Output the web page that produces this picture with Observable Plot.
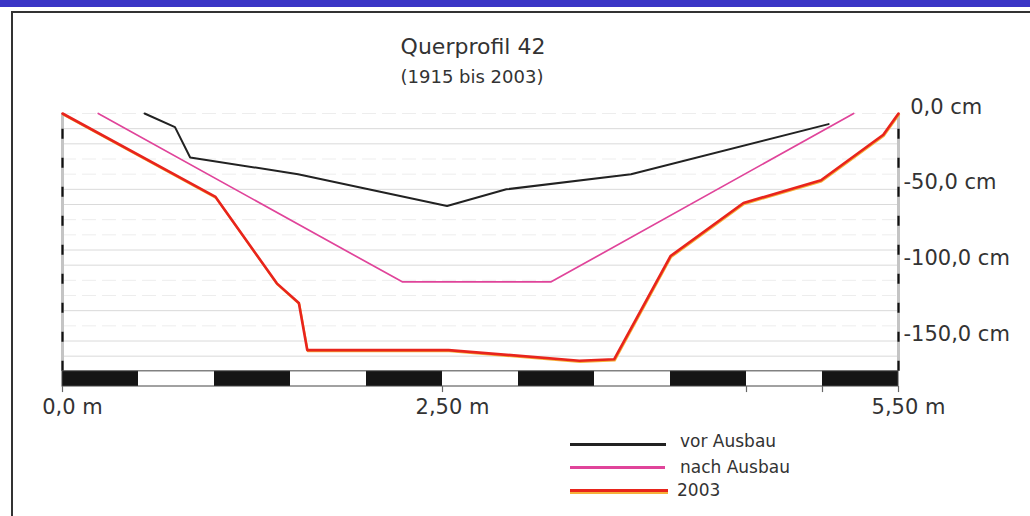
<!DOCTYPE html>
<html>
<head>
<meta charset="utf-8">
<script src="https://cdn.jsdelivr.net/npm/d3@7"></script>
<script src="https://cdn.jsdelivr.net/npm/@observablehq/plot@0.6"></script>
<style>
  body { margin: 0; background: #fff; }
  #wrap { position: relative; width: 1030px; height: 516px; overflow: hidden; font-family: "DejaVu Sans", sans-serif; color: #333; }
  #band { position: absolute; left: 0; top: 0; width: 1030px; height: 7px; background: #3a35c6; }
  #frame { position: absolute; left: 11px; top: 11px; width: 1040px; height: 530px; border: 2px solid #333; box-sizing: border-box; }
  #chart { position: absolute; left: 0; top: 0; }
  .txt { position: absolute; white-space: nowrap; line-height: 1; }
  .lg { position: absolute; height: 3px; }
</style>
</head>
<body>
<div id="wrap">
  <div id="band"></div>
  <div id="frame"></div>
  <div id="chart"></div>
  <div class="txt" id="title" style="left:273px;width:400px;text-align:center;top:36px;font-size:22px;"></div>
  <div class="txt" id="subtitle" style="left:272px;width:400px;text-align:center;top:68px;font-size:18px;"></div>
  <div id="legend"></div>
</div>
<script>
// ---- data ----
const titleText = "Querprofil 42";
const subtitleText = "(1915 bis 2003)";

const vorX = [0.54, 0.74, 0.84, 1.55, 2.53, 2.92, 3.74, 5.04];
const vorY = [0, -9, -29, -40, -61, -50, -40, -7];

const nachX = [0.235, 2.235, 3.215, 5.205];
const nachY = [0, -111, -111, 0];

const y2003X = [0, 1.007, 1.41, 1.555, 1.61, 2.54, 3.40, 3.63, 4.00, 4.48, 4.99, 5.40, 5.5];
const y2003Y = [0, -55, -112, -125, -156, -156, -163, -162, -94, -59, -44, -14, 0];

const seriesNames = ["vor Ausbau", "nach Ausbau", "2003"];

const yTickValues = [0, -50, -100, -150];
const yTickLabels = ["\u00a00,0 cm", "-50,0 cm", "-100,0 cm", "-150,0 cm"];

const xTickValues = [0, 2.5, 5.5];
const xTickLabels = ["0,0 m", "2,50 m", "5,50 m"];
const xTickMarks = [0, 2.5, 4.5, 5.0, 5.5];

const gridStrong = [-10, -20, -50, -60, -90, -100, -130, -150, -160];
const gridFaint = [0, -30, -40, -70, -80, -110, -120, -140];

const barEdges = [0, 0.5, 1, 1.5, 2, 2.5, 3, 3.5, 4, 4.5, 5, 5.5];
const depthMin = -170, barBottom = -180;

// ---- build ----
const toPts = (xs, ys) => xs.map((x, i) => ({x, y: ys[i]}));
const vor = toPts(vorX, vorY);
const nach = toPts(nachX, nachY);
const d2003 = toPts(y2003X, y2003Y);
const segments = d3.pairs(barEdges).map(([a, b], i) => ({x1: a, x2: b, fill: i % 2 === 0 ? "#151515" : "#ffffff"}));

const colors = {vor: "#222222", nach: "#e0449a", red: "#e8241c", orange: "#f6b13a"};

const chart = Plot.plot({
  width: 1030,
  height: 430,
  marginLeft: 62,
  marginRight: 132,
  marginTop: 113,
  marginBottom: 44,
  x: {domain: [0, 5.5], axis: null},
  y: {domain: [barBottom, 0], axis: null},
  style: {background: "transparent", fontFamily: "DejaVu Sans", overflow: "visible", color: "#333"},
  marks: [
    Plot.ruleY(gridFaint, {x1: 0, x2: 5.5, stroke: "#ededed", strokeWidth: 1, strokeDasharray: "14,6"}),
    Plot.ruleY(gridStrong, {x1: 0, x2: 5.5, stroke: "#dadada", strokeWidth: 1}),
    // axes (gray + dashed black)
    Plot.ruleX([0, 5.5], {y1: depthMin, y2: 0, stroke: "#c4c4c4", strokeWidth: 3}),
    Plot.ruleX([0, 5.5], {y1: depthMin, y2: 0, stroke: "#111", strokeWidth: 2.2, strokeDasharray: "10,19"}),
    // scale bar
    Plot.rect(segments, {x1: "x1", x2: "x2", y1: depthMin, y2: barBottom, fill: "fill"}),
    Plot.rect([0], {x1: 0, x2: 5.5, y1: depthMin, y2: barBottom, fill: "none", stroke: "#444", strokeWidth: 1}),
    Plot.ruleX(xTickMarks, {y1: barBottom, y2: barBottom - 4, stroke: "#666", strokeWidth: 1.2}),
    // data
    Plot.line(vor, {x: "x", y: "y", stroke: colors.vor, strokeWidth: 2}),
    Plot.line(nach, {x: "x", y: "y", stroke: colors.nach, strokeWidth: 1.7}),
    Plot.line(d2003, {x: "x", y: "y", stroke: colors.orange, strokeWidth: 2, dx: 0.6, dy: 1.2}),
    Plot.line(d2003, {x: "x", y: "y", stroke: colors.red, strokeWidth: 2.6}),
    // labels
    Plot.text(yTickValues, {x: 5.5, y: d => d, text: (d, i) => yTickLabels[i], textAnchor: "start", lineAnchor: "middle", dx: 5, dy: -6.7, fontSize: 21, fill: "#333"}),
    Plot.text(xTickValues, {x: d => d, y: barBottom, text: (d, i) => xTickLabels[i], textAnchor: "middle", lineAnchor: "middle", dx: 10, dy: 20.5, fontSize: 21, fill: "#333"})
  ]
});
document.getElementById("chart").appendChild(chart);

document.getElementById("title").textContent = titleText;
document.getElementById("subtitle").textContent = subtitleText;

// legend
const legend = document.getElementById("legend");
const legendItems = [
  {name: seriesNames[0], color: colors.vor, x1: 570, x2: 666, y: 445, tx: 680, ty: 433, h: 3},
  {name: seriesNames[1], color: colors.nach, x1: 570, x2: 665, y: 467.5, tx: 680, ty: 459, h: 3},
  {name: seriesNames[2], color: colors.red, x1: 570, x2: 668, y: 491, tx: 677, ty: 482, h: 3}
];
legendItems.forEach((it, i) => {
  if (i === 2) {
    const u = document.createElement("div");
    u.className = "lg";
    u.style.cssText = `left:${it.x1}px;top:${it.y - 0.5}px;width:${it.x2 - it.x1}px;height:3px;background:${colors.orange};`;
    legend.appendChild(u);
  }
  const l = document.createElement("div");
  l.className = "lg";
  l.style.cssText = `left:${it.x1}px;top:${it.y - it.h / 2 - 0.5}px;width:${it.x2 - it.x1}px;height:${it.h}px;background:${it.color};`;
  legend.appendChild(l);
  const t = document.createElement("div");
  t.className = "txt";
  t.style.cssText = `left:${it.tx}px;top:${it.ty}px;font-size:17px;`;
  t.textContent = it.name;
  legend.appendChild(t);
});
</script>
</body>
</html>
